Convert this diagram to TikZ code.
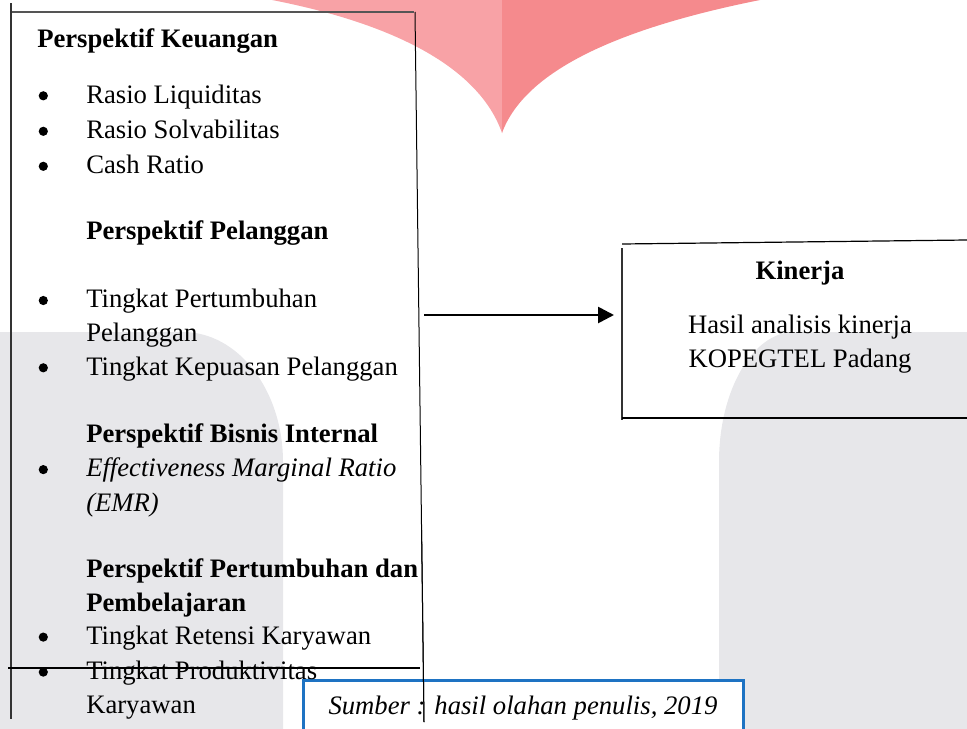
\documentclass[tikz,border=0pt]{standalone}
\usepackage{fontspec}
\setmainfont{Liberation Serif}
\usetikzlibrary{arrows.meta}
\definecolor{pinkL}{RGB}{248,162,166}
\definecolor{pinkR}{RGB}{245,138,141}
\definecolor{wmgrey}{RGB}{231,231,234}
\definecolor{srcblue}{RGB}{30,115,195}
\definecolor{topgrey}{RGB}{85,85,85}
\tikzset{
  txt/.style={anchor=base west, inner sep=0pt, font=\fontsize{20}{24}\selectfont},
  headtxt/.style={anchor=base west, inner sep=0pt, font=\fontsize{20}{24}\selectfont\bfseries},
  ittxt/.style={anchor=base west, inner sep=0pt, font=\fontsize{20}{24}\selectfont\itshape},
  ctxt/.style={anchor=base, inner sep=0pt, font=\fontsize{20}{24}\selectfont},
  chead/.style={anchor=base, inner sep=0pt, font=\fontsize{20}{24}\selectfont\bfseries},
  cit/.style={anchor=base, inner sep=0pt, font=\fontsize{20}{24}\selectfont\itshape},
  frameline/.style={line width=0.9pt, black},
  conn/.style={line width=2pt, -{Triangle[length=12pt,width=12pt]}},
  srcbox/.style={draw=srcblue, line width=2.25pt, fill=white},
}
\begin{document}
\begin{tikzpicture}[x=0.75pt,y=-0.75pt]
\useasboundingbox (0,0) rectangle (967,728);
\begin{scope}
\clip (0,0) rectangle (967,728);
% watermark
\fill[pinkL] (272,-5) -- (272,0) .. controls (400,25) and (480,70) .. (502,133) -- (502,-5) -- cycle;
\fill[pinkR] (760,-5) -- (760,0) .. controls (620,28) and (525,70) .. (502,133) -- (502,-5) -- cycle;
\fill[wmgrey] (-5,740) -- (-5,332) -- (183,332) .. controls (238,332) and (283,390) .. (283,462) -- (283,740) -- cycle;
\fill[wmgrey] (975,740) -- (975,332) -- (794,332) .. controls (753,332) and (719,390) .. (719,462) -- (719,740) -- cycle;
% source box
\draw[srcbox] (303,680) rectangle (743,745);
\end{scope}

% left frame
\draw[line width=1pt, black!80] (11,3) -- (11,719);
\draw[line width=1.6pt, topgrey] (12,12) -- (414,12);
\draw[line width=0.75pt, black] (415,12) -- (424,722);
\draw[frameline] (8,668) -- (420,668);

% right frame (Kinerja)
\coordinate (k1) at (622,244);
\coordinate (k2) at (967,240);
\coordinate (k3) at (622,248);
\coordinate (k4) at (622,420);
\coordinate (k5) at (622,418);
\coordinate (k6) at (967,418);
\draw[line width=0.9pt] (k1) -- (k2);
\draw[line width=0.9pt, black!80] (k3) -- (k4);
\draw[line width=0.9pt] (k5) -- (k6);

% arrow
\coordinate (a0) at (424,315);
\coordinate (a1) at (614,315);
\draw[conn] (a0) -- (a1);

% bullets
\foreach \yy in {103,138.5,173.5,307.7,375,476.8,644.3,679.3}
  \fill (43.3,\yy-7.2) circle (4.6);

% left texts
\node[headtxt] (pk) at (37,47.5) {Perspektif Keuangan};
\node[txt] (rl) at (86,103) {Rasio Liquiditas};
\node[txt] (rs) at (86,138.5) {Rasio Solvabilitas};
\node[txt] (cr) at (86,173.5) {Cash Ratio};
\node[headtxt] (pp) at (86,239.3) {Perspektif Pelanggan};
\node[txt] (tp1) at (86,307.7) {Tingkat Pertumbuhan};
\node[txt] (tp2) at (86,341.5) {Pelanggan};
\node[txt] (tk) at (86,375) {Tingkat Kepuasan Pelanggan};
\node[headtxt] (pb) at (86,442) {Perspektif Bisnis Internal};
\node[ittxt] (em1) at (86,476.8) {Effectiveness Marginal Ratio};
\node[ittxt] (em2) at (86,511.5) {(EMR)};
\node[headtxt] (ppd) at (86,577.7) {Perspektif Pertumbuhan dan};
\node[headtxt] (pem) at (86,611) {Pembelajaran};
\node[txt] (tr) at (86,644.3) {Tingkat Retensi Karyawan};
\node[txt] (tpr) at (86,679.3) {Tingkat Produktivitas};
\node[txt] (kar) at (86,713.7) {Karyawan};

% right texts
\node[chead] (kin) at (800,279.3) {Kinerja};
\node[ctxt] (has) at (800,333.3) {Hasil analisis kinerja};
\node[ctxt] (kop) at (800,367.7) {KOPEGTEL Padang};

% source
\node[cit] (src) at (523,714.3) {Sumber : hasil olahan penulis, 2019};

% right frame line of left box passes over the source text
\draw[line width=0.75pt, black] (421.6,530) -- (424,722);
\end{tikzpicture}
\end{document}
